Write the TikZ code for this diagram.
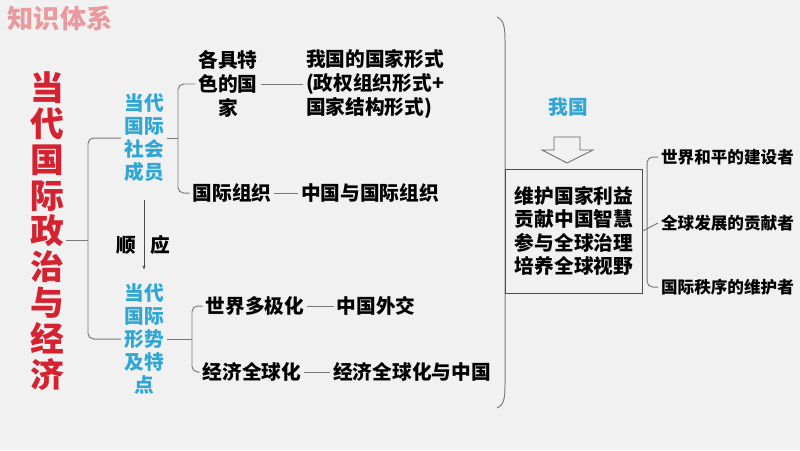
\documentclass[tikz,border=0pt]{standalone}
\usepackage{fontspec}
\newfontfamily\cjk{Noto Sans CJK SC}
\usetikzlibrary{arrows.meta, positioning}
\definecolor{bgc}{HTML}{F1F1F1}
\definecolor{ttlred}{HTML}{D42230}
\definecolor{subblue}{HTML}{2FA6D3}
\definecolor{headpink}{HTML}{E99A9E}
\definecolor{lngray}{HTML}{7A7A7A}

\begin{document}
\begin{tikzpicture}[
  x=0.025cm, y=-0.025cm,
  font=\cjk\bfseries,
  ttl/.style={text=ttlred, align=center, inner sep=1pt,
              font=\cjk\bfseries\fontsize{24}{25.5}\selectfont},
  memb/.style={text=subblue, align=center, inner sep=2pt,
               font=\cjk\bfseries\fontsize{14}{16.3}\selectfont},
  item/.style={align=center, inner sep=2pt,
               font=\cjk\bfseries\fontsize{14}{17}\selectfont},
  role/.style={anchor=west, inner sep=2pt,
               font=\cjk\bfseries\fontsize{11.8}{14}\selectfont},
  box/.style={draw=black!70, line width=0.7pt, align=center,
              minimum width=3.4cm, minimum height=3.1cm, inner sep=2pt,
              font=\cjk\bfseries\fontsize{14}{16.7}\selectfont},
  brk/.style={draw=lngray, line width=0.7pt, rounded corners=4pt},
  arr/.style={-{Stealth[length=3pt]}, line width=0.6pt, draw=black!70}
]

% Background
\fill[bgc] (0,0) rectangle (800,450);
\useasboundingbox (0,0) rectangle (800,450);

% Heading and title
\node[text=headpink, font=\cjk\bfseries\fontsize{18.6}{20}\selectfont]
  (HEAD) at (60,18) {知识体系};
\node[ttl] (TTL) at (47,231) {当\\代\\国\\际\\政\\治\\与\\经\\济};

% Two members
\node[memb] (M1) at (144,138) {当代\\国际\\社会\\成员};
\node[memb] (M2) at (144,339) {当代\\国际\\形势\\及特\\点};
\coordinate (B0) at (88,240);
\draw[brk] (M1.west) -| (B0) |- (M2.west);
\draw[brk] (TTL.east |- B0) -- (B0);

\draw[arr, shorten <=11pt, shorten >=8pt] (M1) -- (M2);
\node[item] (SY) at (143,245) {顺\hspace{10pt}应};

% Upper branch
\coordinate (B1) at (178,138);
\node[item] (GJ) at (228,84) {各具特\\色的国\\家};
\node[item, align=left] (XS) at (375,84)
  {我国的国家形式\\(政权组织形式+\\国家结构形式)};
\node[item] (ZZ) at (232,193) {国际组织};
\node[item] (ZG) at (370,193) {中国与国际组织};
\draw[brk] (GJ.west) -| (B1) |- (ZZ.west);
\draw[brk] (M1.east) -- (B1);
\draw[brk] (GJ) -- (XS);
\draw[brk] (ZZ) -- (ZG);

% Lower branch
\coordinate (B2) at (192,339);
\node[item] (DJ) at (255,306) {世界多极化};
\node[item] (WJ) at (376,306) {中国外交};
\node[item] (QQ) at (252,372) {经济全球化};
\node[item] (QZ) at (412,372) {经济全球化与中国};
\draw[brk] (DJ.west) -| (B2) |- (QQ.west);
\draw[brk] (M2.east) -- (B2);
\draw[brk] (DJ) -- (WJ);
\draw[brk] (QQ) -- (QZ);

% Big bracket
\draw[draw=lngray, line width=0.7pt] (497,17) .. controls (504,20) and (505,28) .. (505,40)
  -- (505,385) .. controls (505,398) and (504,405) .. (497,408);

% Our country
\node[text=subblue, font=\cjk\bfseries\fontsize{14}{16}\selectfont] (WG) at (568,107) {我国};
\draw[draw=black!60, line width=0.6pt] (554,137) -- (580,137) -- (580,150) -- (593,150)
  -- (567,163) -- (542,150) -- (554,150) -- cycle;
\node[box] (BOX) at (574,231) {维护国家利益\\贡献中国智慧\\参与全球治理\\培养全球视野};

% Roles
\coordinate (B3) at (647,223);
\foreach \i/\t/\y in {1/世界和平的建设者/157, 2/全球发展的贡献者/223, 3/国际秩序的维护者/287}{
  \node[role] (R\i) at (658,\y) {\t};
}
\draw[brk] (R1.west) -| (B3) |- (R3.west);
\draw[brk] (BOX.east) -- (R2.west);

\end{tikzpicture}
\end{document}
